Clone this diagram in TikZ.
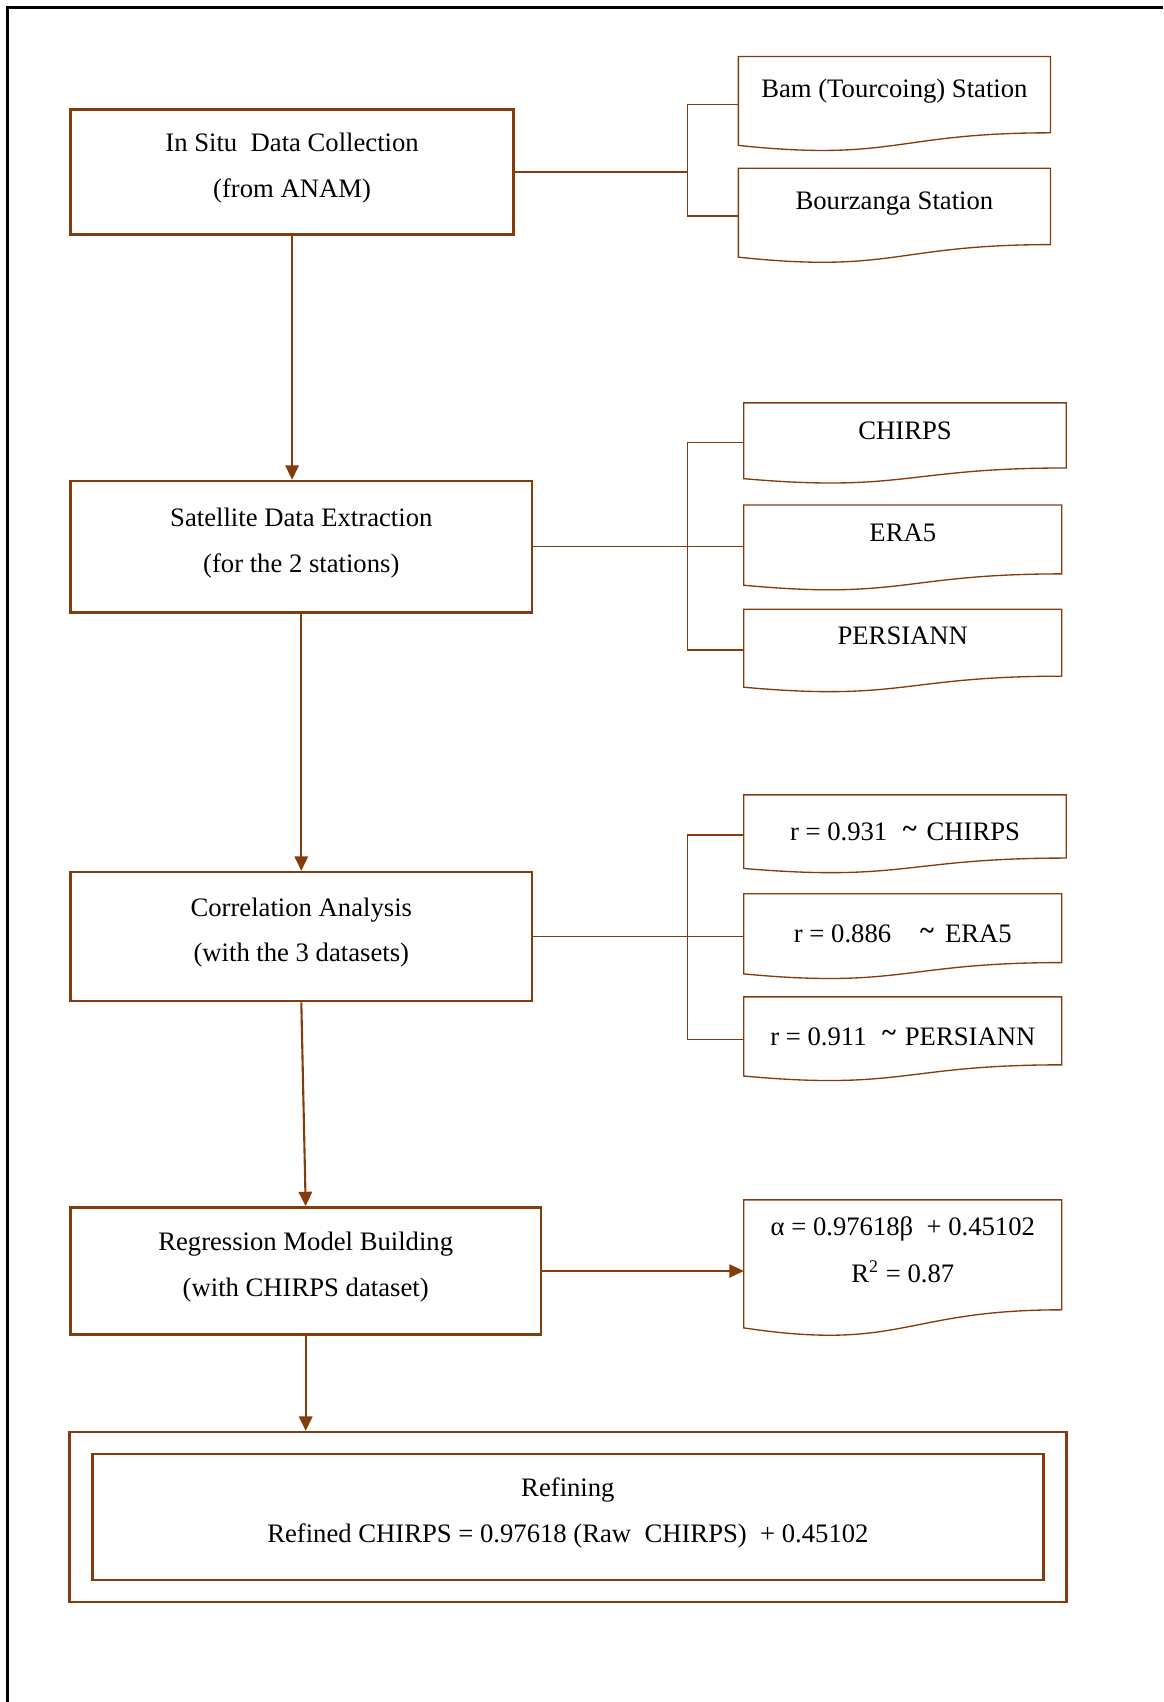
\documentclass[tikz,border=0pt]{standalone}
\usepackage{fontspec}
\setmainfont{Liberation Serif}
\usetikzlibrary{arrows.meta, calc, fit}
\definecolor{rust}{HTML}{843C0C}
\tikzset{
  stage/.style = {rectangle, draw=rust, line width=1.1pt, align=center,
                  font=\fontsize{12pt}{20.5pt}\selectfont, text depth=6pt},
  sheet/.style = {rectangle, anchor=north west, align=center, inner sep=2pt,
                  font=\fontsize{12pt}{21pt}\selectfont},
  lift/.style  = {text height=9pt, text depth=#1},
  tie/.style   = {draw=rust, line width=0.6pt},
  fl/.style    = {-{Triangle[length=6.5pt,width=6pt]}, draw=rust, line width=0.95pt},
  frm/.style   = {draw=black, line width=1pt},
}
\newcommand{\corrtilde}{\raisebox{1.5pt}{\textbf{\textasciitilde}}}
\newcommand{\sheetedge}[1]{%
  \draw[tie] let \p1=(#1.north west), \p2=(#1.south east),
    \n1={\y1-\y2}, \n2={\x2-\x1} in
    (\x1,\y1) -- (\x2,\y1) -- (\x2,{\y1-0.8587*\n1})
    .. controls ({\x1+0.5*\n2},{\y1-0.8587*\n1}) and ({\x1+0.5*\n2},{\y1-1.1859*\n1})
    .. (\x1,\y2) -- cycle;}

\begin{document}
\begin{tikzpicture}[x=0.45pt, y=-0.45pt]
  \useasboundingbox (0,0) rectangle (1163,1702);
  \draw[frm] (7.6,1702) -- (7.6,7.6) -- (1163,7.6);

  % main column
  \node[stage, minimum width=199.4pt, minimum height=56.2pt] (insitu) at (292.1,172.1) {In Situ\ \ Data Collection\\(from ANAM)};
  \node[stage, minimum width=207.7pt, minimum height=59.1pt] (satx)   at (301.3,546.7) {Satellite Data Extraction\\(for the 2 stations)};
  \node[stage, minimum width=207.7pt, minimum height=58.1pt] (corr)   at (301.3,936.6) {Correlation Analysis\\(with the 3 datasets)};
  \node[stage, minimum width=211.6pt, minimum height=57.2pt] (regr)   at (305.7,1271)  {Regression Model Building\\(with CHIRPS dataset)};
  \node[stage, minimum width=428pt,   minimum height=56.7pt] (refine) at (567.9,1517)  {Refining\\Refined CHIRPS = 0.97618 (Raw\ \ CHIRPS)\ \ + 0.45102};
  \node[draw=rust, line width=1.1pt, fit=(refine), inner xsep=9.8pt, inner ysep=9.3pt] (refbox) {};

  % side sheets
  \node[sheet, lift=12.2pt, minimum width=140pt,   minimum height=39.6pt] (bam)     at (738.4,56.5)   {Bam (Tourcoing) Station};
  \node[sheet, lift=12.2pt, minimum width=140pt,   minimum height=39.6pt] (bourz)   at (738.4,168.3)  {Bourzanga Station};
  \node[sheet, lift=10.4pt, minimum width=144.7pt, minimum height=33.7pt] (chirps)  at (743.8,402.9)  {CHIRPS};
  \node[sheet, lift=12.4pt, minimum width=142.7pt, minimum height=35.7pt] (era)     at (743.8,505)    {ERA5};
  \node[sheet, lift=12.4pt, minimum width=142.7pt, minimum height=34.7pt] (pers)    at (743.8,609.2)  {PERSIANN};
  \node[sheet, minimum width=144.7pt, minimum height=32.7pt] (rchirps) at (743.8,794.9)  {r = 0.931\hspace{7pt}\corrtilde\hspace{4.5pt}CHIRPS};
  \node[sheet, minimum width=142.7pt, minimum height=35.7pt] (rera)    at (743.8,893.7)  {r = 0.886\hspace{13pt}\corrtilde\hspace{5pt}ERA5};
  \node[sheet, minimum width=142.7pt, minimum height=35.2pt] (rpers)   at (743.8,996.9)  {r = 0.911\hspace{7pt}\corrtilde\hspace{4pt}PERSIANN};
  \node[sheet, text depth=12.6pt, minimum width=142.7pt, minimum height=57.2pt] (model) at (743.8,1199.9) {α = 0.97618β\ \ + 0.45102\\R\textsuperscript{2} = 0.87};

  \foreach \s in {bam,bourz,chirps,era,pers,rchirps,rera,rpers,model} \sheetedge{\s};

  % brackets
  \coordinate (spine) at (687.4,0);
  \draw[tie] (insitu.east) -- (insitu.east -| spine);
  \foreach \s in {bam,bourz} \draw[tie] ([yshift=-1.5pt]\s.west) -| (insitu.east -| spine);
  \draw[tie] (satx.east) -- (satx.east -| era.west);
  \foreach \s in {chirps,pers} \draw[tie] ([yshift=-0.8pt]\s.west) -| (satx.east -| spine);
  \draw[tie] (corr.east) -- (corr.east -| rera.west);
  \foreach \s in {rchirps,rpers} \draw[tie] ([yshift=-1.5pt]\s.west) -| (corr.east -| spine);

  % flow
  \draw[fl] (insitu.south) -- (insitu.south |- satx.north);
  \draw[fl] (satx.south) -- (corr.north);
  \draw[fl] (corr.south) -- (regr.north);
  \draw[fl] (regr.south) -- (regr.south |- refbox.north);
  \draw[fl, line width=0.5pt] (regr.east) -- (regr.east -| model.west);
\end{tikzpicture}
\end{document}
